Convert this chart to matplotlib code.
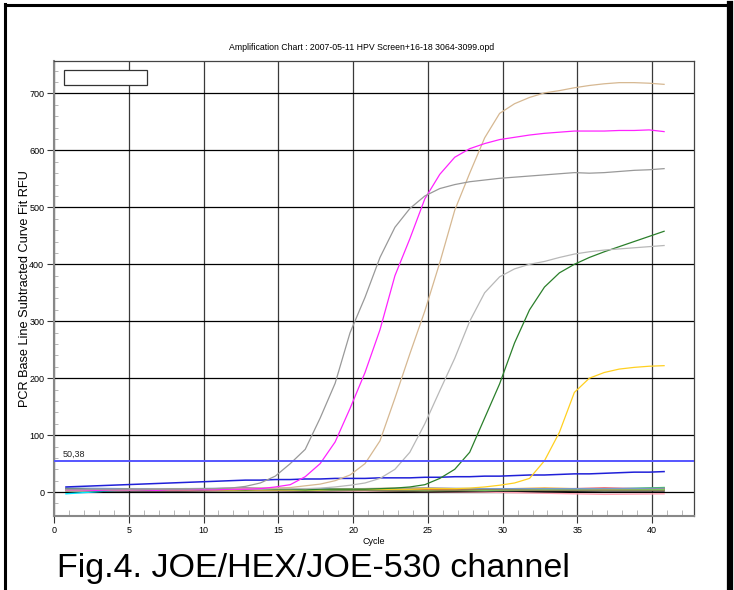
import numpy as np
import matplotlib
matplotlib.use("Agg")
import matplotlib.pyplot as plt
from matplotlib.patches import Rectangle
from matplotlib.lines import Line2D
from matplotlib.ticker import MultipleLocator

plt.rcParams['font.family'] = ['Liberation Sans', 'DejaVu Sans']

# ---------------- data ----------------
cycles = np.arange(1, 42) - 0.2

gray_dark = [5, 5, 5, 5, 5, 5, 5, 5, 5, 6, 6, 7, 10, 16, 28, 50, 75, 130, 191, 280,
             342, 412, 465, 498, 520, 533, 540, 545, 548, 551, 553, 555, 557, 559, 561,
             560, 561, 563, 565, 566, 568]
magenta = [4, 4, 3, 4, 4, 4, 3, 4, 4, 4, 4, 5, 5, 6, 9, 13, 27, 50, 88, 147,
           210, 285, 380, 445, 515, 558, 588, 603, 612, 619, 623, 627, 630, 632, 634,
           634, 634, 635, 635, 636, 633]
tan = [4, 4, 4, 4, 5, 5, 5, 5, 5, 5, 6, 6, 6, 7, 7, 8, 11, 14, 20, 30,
       50, 90, 165, 243, 318, 403, 495, 560, 622, 665, 682, 693, 701, 705, 710,
       714, 717, 719, 719, 718, 716]
gray_light = [4, 4, 4, 4, 4, 4, 5, 5, 5, 5, 5, 5, 5, 5, 6, 6, 6, 7, 9, 12,
              16, 24, 40, 70, 120, 178, 235, 300, 350, 378, 392, 400, 405, 412, 418,
              422, 425, 427, 429, 431, 433]
green_dark = [5, 5, 4, 4, 5, 4, 4, 5, 5, 4, 5, 5, 4, 5, 5, 5, 4, 5, 5, 5,
              5, 6, 7, 9, 13, 24, 40, 70, 130, 190, 262, 320, 360, 385, 400,
              412, 422, 431, 440, 449, 458]
yellow = [4, 4, 4, 4, 4, 4, 4, 4, 4, 4, 4, 4, 4, 4, 4, 4, 4, 4, 5, 5,
          5, 5, 5, 5, 6, 6, 6, 7, 9, 12, 16, 24, 55, 105, 175,
          200, 210, 216, 219, 221, 222]
blue = [9, 10, 11, 12, 13, 14, 15, 16, 17, 18, 19, 20, 21, 21, 22, 22, 23, 23, 24, 24,
        24, 25, 25, 25, 26, 26, 27, 27, 28, 28, 29, 30, 30, 31, 32,
        32, 33, 34, 35, 35, 36]

# baseline (negative) wells, sampled every 4 cycles
base_idx = np.arange(0, 41, 4)
base_green = [6, 5, 6, 5, 4, 5, 6, 5, 6, 5, 8]
base_cyan = [-3, 4, 5, 4, 6, 5, 5, 6, 5, 4, 5]
base_pink = [3, 3, 2, 3, 2, 2, 1, 0, -2, -4, -3]
base_black = [3, 2, 2, 3, 2, 3, 1, 2, 1, 2, 2]
base_purple = [4, 3, 4, 5, 4, 5, 4, 5, 5, 6, 6]
base_orange = [4, 5, 4, 4, 5, 6, 7, 5, 7, 5, 6]
base_red = [5, 4, 5, 7, 4, 5, 5, 4, 5, 7, 5]
base_lime = [3, 4, 3, 4, 3, 4, 3, 3, 4, 3, 4]
base_steel = [7, 6, 6, 7, 6, 6, 7, 6, 6, 6, 7]
base_olive = [2, 4, 3, 2, 4, 3, 2, 4, 3, 3, 3]

threshold = 55
threshold_label = "50,38"

title = "Amplification Chart : 2007-05-11 HPV Screen+16-18 3064-3099.opd"
caption = "Fig.4. JOE/HEX/JOE-530 channel"

# ---------------- figure ----------------
fig = plt.figure(figsize=(7.34, 5.90), dpi=100)
ax = fig.add_axes([54/734, 74/590, 640/734, 455/590])

ax.set_xlim(0, 42.8)
ax.set_ylim(-42, 757)

# grid
ax.xaxis.set_major_locator(MultipleLocator(5))
ax.xaxis.set_minor_locator(MultipleLocator(1))
ax.yaxis.set_major_locator(MultipleLocator(100))
ax.yaxis.set_minor_locator(MultipleLocator(20))
ax.set_yticks(np.arange(0, 701, 100))
ax.grid(True, axis='x', which='major', color='#3a3a3a', lw=0.9, zorder=1)
ax.grid(True, axis='y', which='major', color='black', lw=0.9, zorder=1)
ax.set_axisbelow(True)

# baseline series
base_series = [(base_green, '#22cc22'), (base_cyan, '#00e5ff'), (base_pink, '#ffa0b0'),
               (base_black, '#111111'), (base_purple, '#9933ff'), (base_orange, '#ff9900'),
               (base_red, '#ee2222'), (base_lime, '#66ff66'), (base_steel, '#7799cc'),
               (base_olive, '#888855')]
for vals, col in base_series:
    ax.plot(cycles[base_idx], vals, color=col, lw=1.0, zorder=2)

ax.plot(cycles, blue, color='#2020d8', lw=1.1, zorder=3)
ax.plot(cycles, yellow, color='#ffd020', lw=0.9, zorder=3)
ax.plot(cycles, green_dark, color='#2a7f2a', lw=0.9, zorder=3)
ax.plot(cycles, gray_light, color='#b8b8b8', lw=0.9, zorder=3)
ax.plot(cycles, tan, color='#d6b892', lw=0.9, zorder=3)
ax.plot(cycles, magenta, color='#ff22ff', lw=0.9, zorder=3)
ax.plot(cycles, gray_dark, color='#999999', lw=0.9, zorder=3)

ax.axhline(threshold, color='#5555ff', lw=1.4, zorder=4)
ax.text(0.6, threshold + 4, threshold_label, fontsize=6.5, ha='left', va='bottom', color='#222222')

# empty legend box
ax.add_patch(Rectangle((0.0156, 0.947), 0.129, 0.033, transform=ax.transAxes,
                       facecolor='white', edgecolor='#333333', lw=0.9, zorder=6))

# ticks & spines
ax.tick_params(axis='both', which='major', direction='out', length=5, width=0.8,
               color='#333333', labelsize=6.5, pad=2)
ax.tick_params(axis='x', which='minor', direction='in', length=4, width=0.6, color='#aaaaaa')
ax.tick_params(axis='y', which='minor', direction='in', length=3, width=0.6, color='#aaaaaa')
for s in ['bottom', 'left']:
    ax.spines[s].set_color('#888888')
    ax.spines[s].set_linewidth(1.5)
for s in ['top', 'right']:
    ax.spines[s].set_color('#444444')
    ax.spines[s].set_linewidth(0.9)

ax.set_xlabel("Cycle", fontsize=6.5, labelpad=2)
ax.set_ylabel("PCR Base Line Subtracted Curve Fit RFU", fontsize=9.2, labelpad=-1)

fig.text(362/734, (590-48)/590, title, fontsize=6.3, ha='center', va='center')
fig.text(57/734, (590-577)/590, caption, fontsize=24.5, ha='left', va='baseline')

# outer frame
fig.add_artist(Line2D([5/734, 5/734], [0, 1 - 4/590], transform=fig.transFigure, color='black', lw=2.2))
fig.add_artist(Line2D([5/734, 730/734], [1 - 5/590, 1 - 5/590], transform=fig.transFigure, color='black', lw=2.2))
fig.add_artist(Line2D([730/734, 730/734], [0, 1 - 4/590], transform=fig.transFigure, color='black', lw=4.5))

fig.savefig("out.png", dpi=100)
